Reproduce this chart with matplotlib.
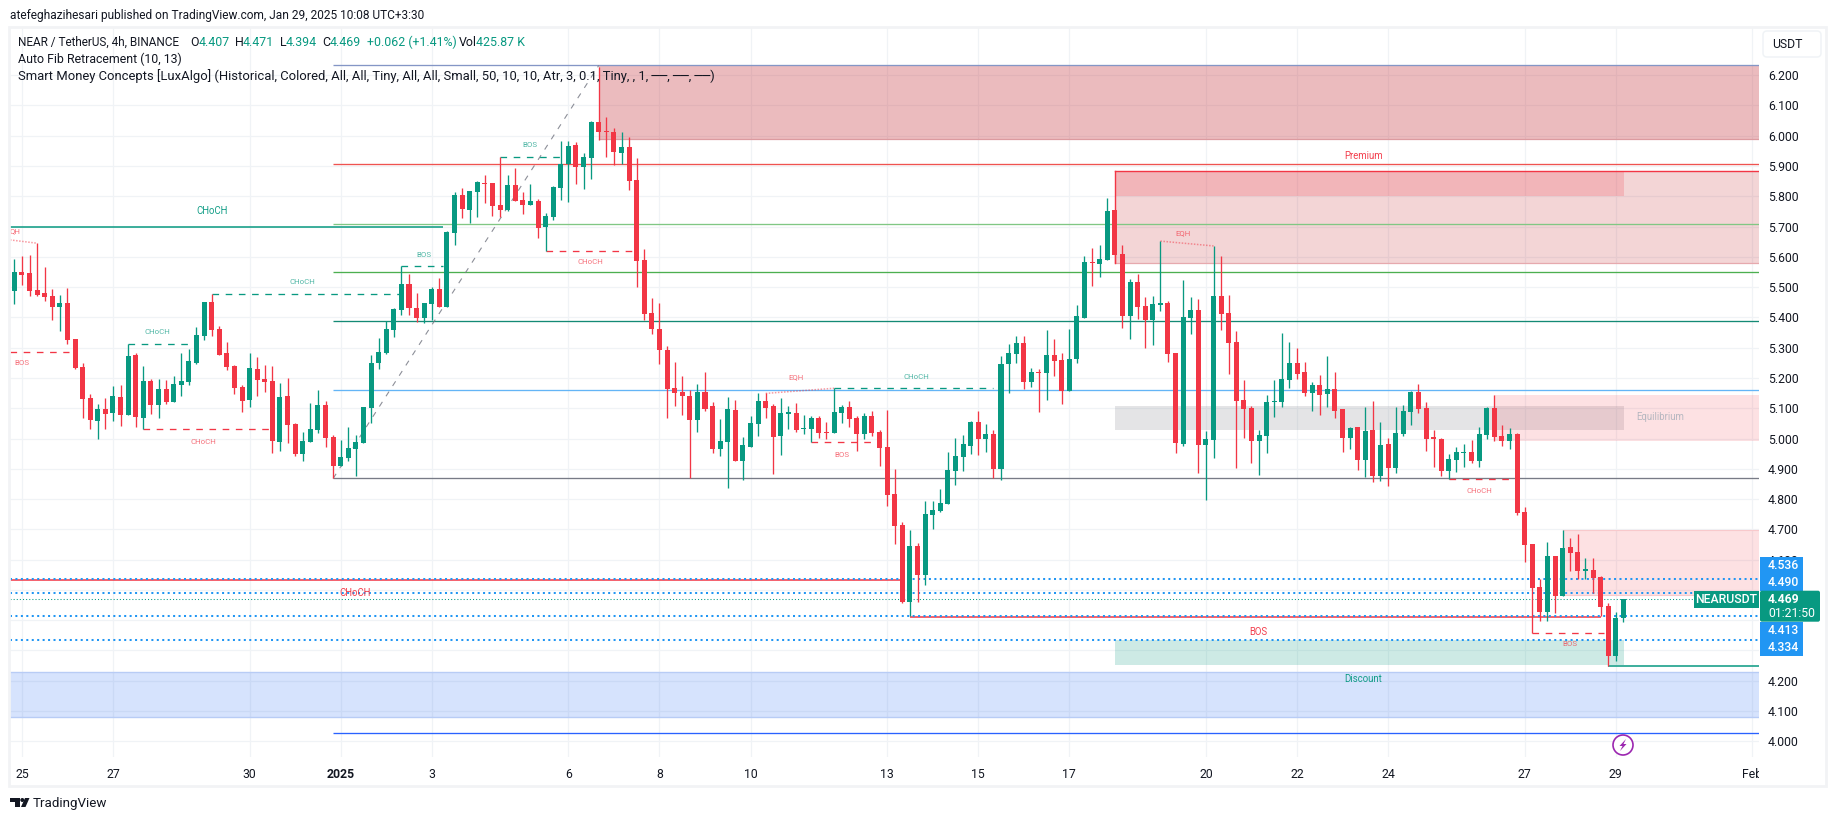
import matplotlib
matplotlib.use("Agg")
import matplotlib.pyplot as plt
from matplotlib.patches import Rectangle, Circle, Polygon, FancyBboxPatch
from matplotlib.transforms import Bbox

plt.rcParams['font.family'] = ['Roboto', 'DejaVu Sans']

# ---------- candle data (4h NEARUSDT) ----------
opens = [
5.487,5.550,5.547,5.491,5.481,5.471,5.434,5.448,5.329,5.236,
5.134,5.058,5.098,5.084,5.137,5.078,5.276,5.068,5.190,5.111,
5.164,5.121,5.177,5.187,5.249,5.339,5.451,5.362,5.282,5.240,
5.170,5.127,5.230,5.197,5.190,4.989,5.140,5.048,4.949,4.989,
5.028,5.111,5.005,4.909,4.936,4.965,4.985,5.101,5.249,5.282,
5.358,5.424,5.510,5.431,5.398,5.444,5.494,5.434,5.679,5.804,
5.755,5.814,5.844,5.844,5.771,5.755,5.837,5.788,5.771,5.784,
5.699,5.732,5.827,5.907,5.969,5.897,5.926,6.045,6.016,6.012,
5.943,5.963,5.854,5.590,5.415,5.362,5.292,5.167,5.154,5.140,
5.061,5.154,5.107,4.965,4.989,5.094,4.926,4.972,5.048,5.124,
5.107,5.008,5.082,5.084,5.032,5.031,5.068,5.022,5.018,5.084,
5.104,5.068,5.015,5.074,5.022,4.972,4.817,4.714,4.460,4.645,
4.549,4.747,4.761,4.784,4.893,4.939,4.975,5.055,4.998,5.015,
4.899,5.246,5.279,5.315,5.187,5.220,5.216,5.276,5.259,5.157,
5.263,5.398,5.583,5.576,5.590,5.755,5.609,5.405,5.517,5.438,
5.391,5.441,5.448,5.282,4.982,5.398,5.424,4.979,4.995,5.471,
5.415,5.319,5.127,5.101,4.992,5.008,5.121,5.121,5.193,5.249,
5.220,5.150,5.177,5.147,5.164,5.097,5.002,5.038,4.929,5.028,
4.876,4.982,4.903,5.015,5.088,5.154,5.101,5.002,4.998,4.893,
4.929,4.953,4.955,4.926,5.012,5.101,5.008,4.992,5.015,4.757,
4.652,4.510,4.427,4.612,4.480,4.642,4.625,4.564,4.566,4.543,
4.447,4.282,4.407]
closes = [
5.550,5.540,5.487,5.474,5.467,5.434,5.448,5.325,5.233,5.131,
5.061,5.098,5.081,5.140,5.078,5.273,5.071,5.190,5.111,5.164,
5.121,5.180,5.190,5.256,5.342,5.451,5.358,5.276,5.236,5.167,
5.124,5.233,5.193,5.187,4.992,5.137,5.045,4.949,4.992,5.031,
5.111,5.002,4.909,4.939,4.969,4.989,5.104,5.249,5.286,5.362,
5.428,5.510,5.431,5.398,5.448,5.494,5.434,5.682,5.804,5.758,
5.817,5.847,5.841,5.768,5.755,5.837,5.784,5.771,5.784,5.695,
5.735,5.831,5.907,5.966,5.897,5.930,6.045,6.012,6.012,5.946,
5.963,5.850,5.586,5.411,5.362,5.292,5.164,5.150,5.140,5.061,
5.154,5.098,4.965,4.992,5.098,4.926,4.979,5.051,5.124,5.101,
5.005,5.084,5.084,5.028,5.035,5.068,5.018,5.019,5.088,5.104,
5.064,5.015,5.074,5.018,4.969,4.813,4.711,4.460,4.645,4.549,
4.751,4.764,4.787,4.896,4.942,4.982,5.055,4.998,5.015,4.899,
5.246,5.282,5.315,5.187,5.220,5.216,5.276,5.256,5.157,5.263,
5.405,5.583,5.580,5.593,5.751,5.606,5.405,5.517,5.434,5.391,
5.444,5.448,5.279,4.985,5.401,5.424,4.979,4.998,5.471,5.411,
5.315,5.124,5.097,4.992,5.012,5.121,5.124,5.197,5.249,5.213,
5.150,5.177,5.144,5.164,5.091,5.002,5.035,4.929,5.025,4.876,
4.979,4.903,5.018,5.091,5.154,5.097,4.998,5.000,4.893,4.932,
4.955,4.955,4.926,5.015,5.101,5.005,4.992,5.015,4.754,4.648,
4.506,4.427,4.612,4.480,4.638,4.622,4.562,4.566,4.539,4.444,
4.282,4.407,4.469]
highs = [
5.593,5.603,5.606,5.645,5.566,5.494,5.474,5.497,5.329,5.249,
5.147,5.114,5.134,5.173,5.177,5.311,5.282,5.240,5.197,5.197,
5.193,5.206,5.282,5.296,5.368,5.451,5.477,5.372,5.319,5.243,
5.177,5.282,5.269,5.243,5.240,5.183,5.200,5.051,5.022,5.117,
5.160,5.124,5.012,4.995,5.038,5.012,5.105,5.276,5.332,5.388,
5.431,5.570,5.543,5.481,5.448,5.500,5.530,5.685,5.814,5.827,
5.817,5.850,5.870,5.844,5.929,5.870,5.893,5.814,5.841,5.791,
5.745,5.834,5.982,5.982,5.979,5.943,6.049,6.228,6.062,6.025,
6.012,5.996,5.926,5.626,5.464,5.448,5.306,5.253,5.206,5.160,
5.180,5.220,5.121,5.064,5.137,5.127,5.005,5.074,5.150,5.150,
5.114,5.134,5.107,5.117,5.078,5.074,5.074,5.055,5.166,5.111,
5.124,5.074,5.084,5.091,5.028,5.094,4.899,4.724,4.698,4.655,
4.794,4.794,4.833,4.955,5.002,5.012,5.058,5.091,5.048,5.028,
5.272,5.312,5.339,5.339,5.233,5.230,5.358,5.329,5.282,5.362,
5.441,5.603,5.629,5.639,5.794,5.755,5.639,5.527,5.543,5.467,
5.471,5.652,5.454,5.282,5.524,5.467,5.461,5.025,5.636,5.603,
5.474,5.355,5.193,5.107,5.028,5.144,5.193,5.348,5.319,5.299,
5.253,5.187,5.210,5.272,5.220,5.097,5.038,5.038,5.104,5.124,
5.055,5.002,5.104,5.111,5.157,5.180,5.121,5.028,5.002,4.949,
4.972,4.982,4.995,5.038,5.104,5.144,5.045,5.035,5.018,4.774,
4.652,4.536,4.658,4.612,4.698,4.671,4.685,4.605,4.605,4.546,
4.456,4.427,4.471]
lows = [
5.444,5.507,5.471,5.471,5.454,5.391,5.355,5.312,5.230,5.068,
5.031,4.998,5.031,5.058,5.041,5.078,5.038,5.031,5.081,5.068,
5.114,5.121,5.140,5.177,5.246,5.325,5.339,5.276,5.226,5.147,
5.088,5.104,5.140,5.154,4.952,4.959,4.985,4.942,4.926,4.989,
5.018,4.972,4.868,4.909,4.926,4.876,4.985,5.051,5.230,5.279,
5.335,5.408,5.408,5.385,5.382,5.391,5.434,5.434,5.639,5.728,
5.712,5.732,5.778,5.735,5.732,5.751,5.784,5.741,5.771,5.662,
5.618,5.722,5.788,5.781,5.841,5.824,5.857,5.986,5.930,5.903,
5.907,5.821,5.500,5.391,5.345,5.246,5.068,5.107,5.078,4.869,
5.022,5.091,4.952,4.942,4.837,4.926,4.863,4.972,5.008,5.068,
4.883,4.946,5.031,5.022,5.015,4.987,5.002,4.997,5.018,5.051,
5.038,4.959,4.998,5.008,4.909,4.777,4.652,4.457,4.414,4.460,
4.516,4.701,4.757,4.784,4.847,4.893,4.949,4.946,4.955,4.869,
4.863,5.150,5.249,5.164,5.170,5.088,5.127,5.207,5.114,5.157,
5.249,5.398,5.504,5.533,5.590,5.580,5.365,5.329,5.395,5.299,
5.309,5.421,5.253,4.952,4.975,5.345,4.886,4.797,4.936,5.358,
5.213,4.903,5.002,4.919,4.880,4.952,5.071,5.104,5.167,5.197,
5.140,5.091,5.078,5.104,5.068,4.955,4.965,4.896,4.873,4.856,
4.860,4.843,4.886,5.008,5.045,5.084,4.959,4.906,4.876,4.866,
4.889,4.906,4.919,4.906,4.998,4.992,4.975,4.965,4.747,4.592,
4.357,4.397,4.397,4.424,4.480,4.562,4.536,4.536,4.490,4.414,
4.250,4.265,4.394]

date_ticks = [1, 13, 31, 43, 55, 73, 85, 97, 115, 127, 139, 157, 169, 181, 199, 211, 229]
date_labels = ['25','27','30','2025','3','6','8','10','13','15','17','20','22','24','27','29','Feb']
price_ticks = [4.0,4.1,4.2,4.3,4.4,4.5,4.6,4.7,4.8,4.9,5.0,5.1,5.2,5.3,5.4,5.5,5.6,5.7,5.8,5.9,6.0,6.1,6.2]
# labels that sit fully behind the last-price flags
hidden_price_labels = [4.3, 4.4, 4.5]

# Fibonacci levels (price, colour)
fib_start = 42
fib_levels = [(6.232,'#8496c6'),(5.9077,'#ef5350'),(5.709,'#81c784'),(5.549,'#4caf50'),
              (5.387,'#148a75'),(5.159,'#64b5f6'),(4.8685,'#787b86'),(4.029,'#2962ff')]
fib_diag_i = [42, 77]
fib_diag_p = [4.868, 6.232]

blue_dotted = [4.536, 4.490, 4.413, 4.334]
last_price = 4.469

# dashed structure: i0, i1, price, colour
GREEN, RED = '#089981', '#f23645'
dashed = [(-0.57,7.2,5.285,RED),(15,22.9,5.311,GREEN),(17,33.7,5.030,RED),(26,50.8,5.476,GREEN),
          (51,56.5,5.570,GREEN),(64,72,5.929,GREEN),(70,81.6,5.618,RED),(108,129,5.166,GREEN),
          (105,113,4.987,RED),(189,197,4.866,RED),(200,209.4,4.357,RED)]
# dotted equal highs: i0, p0, i1, p1
eq_lines = [(-0.57,5.656,3,5.645),(99,5.149,108,5.166),(151,5.652,158,5.636)]
# solid structure: i0, i1, price, colour
solid = [(-0.57,56.5,5.6995,GREEN),(-0.57,117,4.533,RED),(118,209,4.411,RED),(210,229.87,4.250,GREEN)]
# small labels: i, price, text, colour
small_labels = [(1.0,5.249,'BOS',RED),(18.8,5.353,'CHoCH',GREEN),(24.9,4.990,'CHoCH',RED),
                (37.9,5.518,'CHoCH',GREEN),(53.9,5.607,'BOS',GREEN),(67.9,5.971,'BOS',GREEN),
                (75.9,5.582,'CHoCH',RED),(103,5.204,'EQH',RED),(118.9,5.204,'CHoCH',GREEN),
                (109,4.947,'BOS',RED),(154,5.677,'EQH',RED),(193,4.826,'CHoCH',RED),
                (205,4.320,'BOS',RED),(0.1,5.686,'QH',RED)]
big_labels = [(26,5.752,'CHoCH',GREEN),(44.9,4.490,'CHoCH',RED),(163.9,4.361,'BOS',RED),
              (177.8,5.933,'Premium',RED),(216.8,5.071,'Equilibrium','#b2b5be'),(177.7,4.206,'Discount',GREEN)]
# zones: i0, i1, p_low, p_high, colour, alpha
END = 229.87
ZRED = '#c0202a'
zones = [(77,END,5.989,6.232,ZRED,0.30),(145,END,5.5806,5.8825,ZRED,0.19),
         (145,212.1,5.801,5.8825,RED,0.20),(145,212.1,5.028,5.1075,'#787b86',0.20),
         (195,END,4.993,5.143,RED,0.15),(204,END,4.483,4.698,RED,0.15),
         (145,212.1,4.252,4.334,GREEN,0.20),(-0.57,END,4.081,4.229,'#3273f5',0.20)]

# ---------- figure ----------
W, H = 1835, 821
fig = plt.figure(figsize=(W/100, H/100), dpi=100, facecolor='white')
L, R, T, B = 10, 1759, 27, 757
ax = fig.add_axes([L/W, 1-B/H, (R-L)/W, (B-T)/H])
ax.set_xlim(-0.57, END)
ax.set_ylim(5.9-(B-166)/302.8, 5.9+(166-T)/302.8)
for s in ax.spines.values():
    s.set_visible(False)
TXT = '#131722'
ax.yaxis.tick_right()
ax.set_yticks(price_ticks)
ax.set_yticklabels(['' if p in hidden_price_labels else f'{p:.3f}' for p in price_ticks],
                   fontsize=8.8, color=TXT)
ax.set_xticks(date_ticks)
ax.set_xticklabels(date_labels, fontsize=8.8, color=TXT)
ax.tick_params(axis='both', length=0)
ax.tick_params(axis='y', pad=6.5)
ax.tick_params(axis='x', pad=8)
ax.grid(True, color='#f0f3f6', lw=0.9, zorder=0)
ax.set_axisbelow(True)
for lab in ax.get_xticklabels():
    if lab.get_text() == '2025':
        lab.set_fontweight('bold')
    if lab.get_text() == 'Feb':
        lab.set_clip_box(Bbox([[0, 0], [R, H]]))
        lab.set_clip_on(True)

for i0, i1, lo, hi, c, a in zones:
    ax.add_patch(Rectangle((i0, lo), i1-i0, hi-lo, fc=c, alpha=a, lw=0, zorder=1))
# zone edges
ax.plot([77, END], [5.989, 5.989], color='#dc9ba0', lw=0.9, zorder=1.5)
ax.plot([145, END], [5.5806, 5.5806], color='#e6a9ae', lw=0.9, zorder=1.5)
ax.plot([145, END], [5.8825, 5.8825], color=RED, lw=1.0, zorder=1.5)
ax.plot([145, 145], [5.5806, 5.8825], color=RED, lw=1.0, zorder=1.5)
ax.plot([204, END], [4.483, 4.483], color='#f8c9cc', lw=0.8, zorder=1.5)
ax.plot([204, END], [4.698, 4.698], color='#f8c9cc', lw=0.8, zorder=1.5)
ax.plot([-0.57, END], [4.229, 4.229], color='#b8ccf5', lw=1.0, zorder=1.5)
ax.plot([-0.57, END], [4.081, 4.081], color='#b8ccf5', lw=1.0, zorder=1.5)

for p, c in fib_levels:
    ax.plot([fib_start, END], [p, p], color=c, lw=0.95, zorder=2, solid_capstyle='butt')
ax.plot(fib_diag_i, fib_diag_p, color='#787b86', lw=0.8, ls=(0, (5, 6)), alpha=0.85, zorder=2)

for i0, i1, p, c in solid:
    ax.plot([i0, i1], [p, p], color=c, lw=1.1, zorder=2.05, solid_capstyle='butt')
for p in blue_dotted:
    ax.plot([-0.57, END], [p, p], color='#2196f3', lw=1.45, ls=(0, (1, 1.7)), zorder=2.1,
            dash_capstyle='butt')
ax.plot([-0.57, 223], [last_price, last_price], color=GREEN, lw=0.75, ls=(0, (1, 2)), zorder=2.2)

for i0, i1, p, c in dashed:
    ax.plot([i0, i1], [p, p], color=c, lw=0.95, ls=(0, (5, 5)), zorder=2.3)
for i0, p0, i1, p1 in eq_lines:
    ax.plot([i0, i1], [p0, p1], color=RED, lw=1.1, ls=(0, (1, 1)), alpha=0.5, zorder=2.3)

for i, (o, h, l, c) in enumerate(zip(opens, highs, lows, closes)):
    col = GREEN if c >= o else RED
    ax.vlines(i, l, h, color=col, lw=0.95, zorder=3)
    bot, top = min(o, c), max(o, c)
    ax.bar(i, max(top-bot, 0.004), bottom=bot, width=0.66, color=col, lw=0, zorder=3.1)

for i, p, t, c in small_labels:
    ax.text(i, p, t, color=c, alpha=0.7, fontsize=5.7, ha='center', va='center', zorder=4)
for i, p, t, c in big_labels:
    ax.text(i, p, t, color=c, fontsize=6.9, ha='center', va='center', zorder=4,
            alpha=0.95)

# ---------- page chrome in pixel coordinates ----------
ov = fig.add_axes([0, 0, 1, 1], facecolor='none')
ov.set_xlim(0, W); ov.set_ylim(H, 0); ov.axis('off')
ov.add_patch(Rectangle((9, 27), 1817, 759, fc='none', ec='#f2f3f5', lw=2))
ov.text(10, 15, 'atefeghazihesari published on TradingView.com, Jan 29, 2025 10:08 UTC+3:30',
        fontsize=8.6, color=TXT, va='center')
ov.text(18, 42, 'NEAR / TetherUS, 4h, BINANCE', fontsize=8.5, color=TXT, va='center')
for x, t, c in [(190.6,'O',TXT),(198.5,'4.407',GREEN),(235,'H',TXT),(243,'4.471',GREEN),
                (279.6,'L',TXT),(285.5,'4.394',GREEN),(322.7,'C',TXT),(330,'4.469',GREEN),
                (366.5,'+0.062 (+1.41%)',GREEN),(459,'Vol',TXT),(475.7,'425.87 K',GREEN)]:
    ov.text(x, 42, t, fontsize=8.9, color=c, va='center')
ov.text(18, 59, 'Auto Fib Retracement (10, 13)', fontsize=8.9, color=TXT, va='center')
ov.text(18, 76, 'Smart Money Concepts [LuxAlgo] (Historical, Colored, All, All, Tiny, All, All, Small, '
        '50, 10, 10, Atr, 3, 0.1, Tiny, , 1, ──, ──, ──)', fontsize=9.35, color=TXT, va='center')

# USDT button
ov.add_patch(FancyBboxPatch((1765, 33), 54, 22, boxstyle='round,pad=2,rounding_size=4',
                            fc='white', ec='#f0f3f6', lw=1.1))
ov.text(1772, 44.5, 'USDT', fontsize=8.8, color=TXT, va='center')

# price flags
BLUE = '#2196f3'
ov.add_patch(Rectangle((1760, 557.3), 42.7, 33.4, fc=BLUE, lw=0))
ov.add_patch(Rectangle((1760, 621.7), 42.7, 34.3, fc=BLUE, lw=0))
ov.add_patch(FancyBboxPatch((1760, 590.7), 60, 31, boxstyle='round,pad=0,rounding_size=2', fc=GREEN, lw=0))
ov.add_patch(Rectangle((1694, 590.7), 65, 17, fc=GREEN, lw=0))
for y, t in [(565.7,'4.536'),(582.7,'4.490'),(630.7,'4.413'),(647.3,'4.334')]:
    ov.text(1768, y, t, fontsize=8.8, color='white', va='center', fontweight='medium')
ov.text(1768, 599.3, '4.469', fontsize=8.8, color='white', va='center', fontweight='bold')
ov.text(1768, 613.3, '01:21:50', fontsize=8.8, color='white', va='center')
ov.text(1726.5, 599.3, 'NEARUSDT', fontsize=8.8, color='white', va='center', ha='center', fontweight='medium')

# lightning marker
PUR = '#9c27b0'
ov.add_patch(Circle((1623, 745), 10, fc='white', ec=PUR, lw=1.2))
ov.add_patch(Polygon([(1626,739),(1619.5,746),(1622.5,746),(1620,751),(1626.5,744),(1623.5,744)], fc=PUR, lw=0))

# TradingView logo
K = '#131722'
ov.add_patch(Rectangle((9.6, 798), 10, 4, fc=K, lw=0))
ov.add_patch(Rectangle((14.5, 798), 5, 9, fc=K, lw=0))
ov.add_patch(Circle((22.3, 800), 2, fc=K, lw=0))
ov.add_patch(Polygon([(25, 798), (29.5, 798), (25.5, 807), (21, 807)], fc=K, lw=0))
ov.text(33, 804, 'TradingView', fontsize=9.6, color=K, va='center')

fig.savefig('out.png', dpi=100)
